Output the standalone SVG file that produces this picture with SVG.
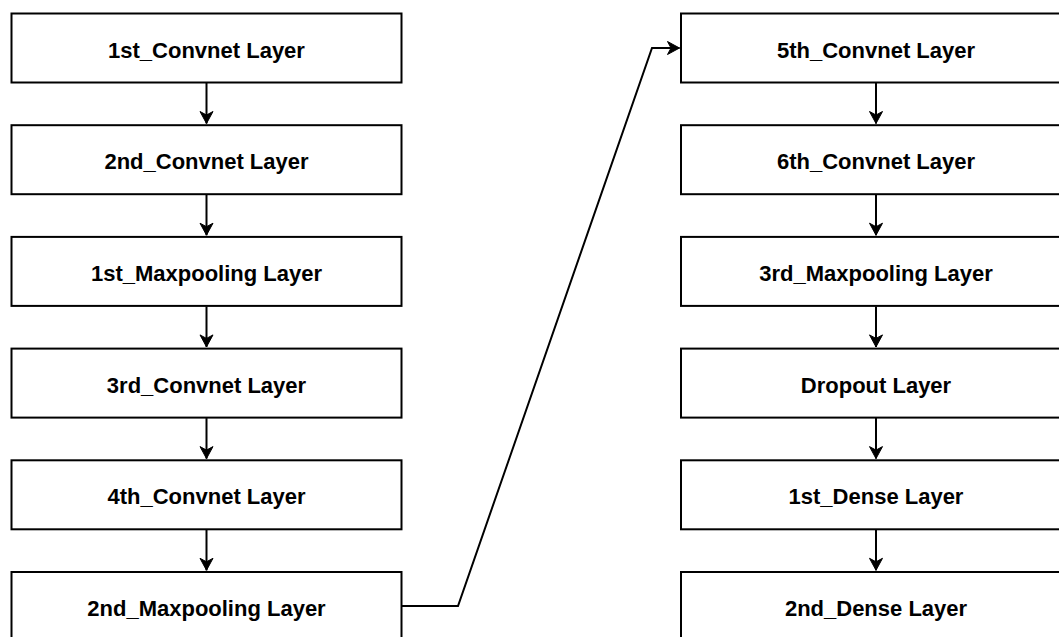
<svg xmlns="http://www.w3.org/2000/svg" width="1059" height="637" viewBox="0 0 1059 637">
<style>
.box{fill:#fff;stroke:#000;stroke-width:2}
.lbl{font-family:"Liberation Sans",Arial,sans-serif;font-weight:bold;font-size:22px;fill:#000;text-anchor:middle}
.edge{fill:none;stroke:#000;stroke-width:2}
</style>
<defs>
<marker id="arr" markerUnits="userSpaceOnUse" markerWidth="16" markerHeight="16" viewBox="-12 -8 14 16" refX="0" refY="0" orient="auto">
<path d="M0,0 L-12,-6.5 L-8.5,0 L-12,6.5 Z" fill="#000" stroke="#000" stroke-width="1"/>
</marker>
</defs>
<rect width="1059" height="637" fill="#fff"/>
<g id="connectors">
<line class="edge" x1="206.5" y1="83" x2="206.5" y2="123.5" marker-end="url(#arr)"/>
<line class="edge" x1="206.5" y1="194.7" x2="206.5" y2="235.2" marker-end="url(#arr)"/>
<line class="edge" x1="206.5" y1="306.4" x2="206.5" y2="346.9" marker-end="url(#arr)"/>
<line class="edge" x1="206.5" y1="418.1" x2="206.5" y2="458.6" marker-end="url(#arr)"/>
<line class="edge" x1="206.5" y1="529.8" x2="206.5" y2="570.3" marker-end="url(#arr)"/>
<line class="edge" x1="876" y1="83" x2="876" y2="123.5" marker-end="url(#arr)"/>
<line class="edge" x1="876" y1="194.7" x2="876" y2="235.2" marker-end="url(#arr)"/>
<line class="edge" x1="876" y1="306.4" x2="876" y2="346.9" marker-end="url(#arr)"/>
<line class="edge" x1="876" y1="418.1" x2="876" y2="458.6" marker-end="url(#arr)"/>
<line class="edge" x1="876" y1="529.8" x2="876" y2="570.3" marker-end="url(#arr)"/>
<polyline class="edge" points="402,606 458,606 652,48 679.5,48" marker-end="url(#arr)"/>
</g>
<g id="n1"><rect class="box" x="11.5" y="13.5" width="390" height="69"/><text class="lbl" x="206.5" y="57.5">1st_Convnet Layer</text></g>
<g id="n2"><rect class="box" x="11.5" y="125.2" width="390" height="69"/><text class="lbl" x="206.5" y="169.2">2nd_Convnet Layer</text></g>
<g id="n3"><rect class="box" x="11.5" y="236.9" width="390" height="69"/><text class="lbl" x="206.5" y="280.9">1st_Maxpooling Layer</text></g>
<g id="n4"><rect class="box" x="11.5" y="348.6" width="390" height="69"/><text class="lbl" x="206.5" y="392.6">3rd_Convnet Layer</text></g>
<g id="n5"><rect class="box" x="11.5" y="460.3" width="390" height="69"/><text class="lbl" x="206.5" y="504.3">4th_Convnet Layer</text></g>
<g id="n6"><rect class="box" x="11.5" y="572" width="390" height="69"/><text class="lbl" x="206.5" y="616">2nd_Maxpooling Layer</text></g>
<g id="n7"><rect class="box" x="681" y="13.5" width="390" height="69"/><text class="lbl" x="876" y="57.5">5th_Convnet Layer</text></g>
<g id="n8"><rect class="box" x="681" y="125.2" width="390" height="69"/><text class="lbl" x="876" y="169.2">6th_Convnet Layer</text></g>
<g id="n9"><rect class="box" x="681" y="236.9" width="390" height="69"/><text class="lbl" x="876" y="280.9">3rd_Maxpooling Layer</text></g>
<g id="n10"><rect class="box" x="681" y="348.6" width="390" height="69"/><text class="lbl" x="876" y="392.6">Dropout Layer</text></g>
<g id="n11"><rect class="box" x="681" y="460.3" width="390" height="69"/><text class="lbl" x="876" y="504.3">1st_Dense Layer</text></g>
<g id="n12"><rect class="box" x="681" y="572" width="390" height="69"/><text class="lbl" x="876" y="616">2nd_Dense Layer</text></g>
</svg>
